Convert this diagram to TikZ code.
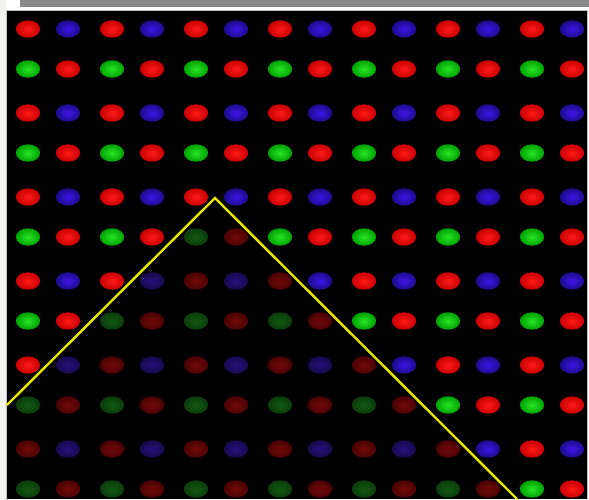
\documentclass[tikz,border=0pt]{standalone}
\definecolor{redIn}{HTML}{FF1A1A}
\definecolor{redOut}{HTML}{C80000}
\definecolor{blueIn}{HTML}{3C14E6}
\definecolor{blueOut}{HTML}{1C0C8C}
\definecolor{greenIn}{HTML}{28E628}
\definecolor{greenOut}{HTML}{00A000}
\definecolor{redDIn}{HTML}{700808}
\definecolor{redDOut}{HTML}{4C0202}
\definecolor{blueDIn}{HTML}{26107C}
\definecolor{blueDOut}{HTML}{160A4C}
\definecolor{greenDIn}{HTML}{125812}
\definecolor{greenDOut}{HTML}{0A3C0A}
\definecolor{barGray}{HTML}{8A8A8A}
\definecolor{paper}{HTML}{F4F2EC}
\definecolor{lineYellow}{HTML}{E8E800}
\tikzset{
  panel/.style={fill=black},
  panelborder/.style={draw=black!25,line width=0.8pt},
  topbar/.style={fill=barGray},
  yline/.style={draw=lineYellow,line width=2.4pt,line join=miter},
}
\begin{document}
\begin{tikzpicture}[x=1pt,y=-1pt]
\useasboundingbox (0,0) rectangle (589,499);
\fill[white] (0,0) rectangle (589,499);
\fill[paper] (0,0) rectangle (6,499);
\fill[topbar] (20,0) rectangle (589,7);
\draw[panelborder] (6.4,10.4) rectangle (587.6,502);
\fill[panel] (7,11) rectangle (587,499);
\foreach \r in {0,...,11}{
  \foreach \c in {0,...,13}{
    \pgfmathtruncatemacro\px{28+84*floor(\c/2)+40*mod(\c,2)}
    \pgfmathtruncatemacro\py{29+84*floor(\r/2)+40*mod(\r,2)}
    \pgfmathtruncatemacro\isdim{\py>198+abs(\px-215)?1:0}
    \pgfmathtruncatemacro\kind{mod(\r,2)*2+mod(\c,2)}
    \edef\ckey{\ifcase\kind red\or blue\or green\or red\fi\ifnum\isdim=1 D\fi}
    \fill[inner color=\ckey In,outer color=\ckey Out] (\px,\py) ellipse (12.2 and 8.7);
  }
}
\coordinate (L) at (7,405);
\coordinate (A) at (215,198);
\coordinate (R) at (517,499);
\draw[yline] (L) -- (A) -- (R);
\end{tikzpicture}
\end{document}
